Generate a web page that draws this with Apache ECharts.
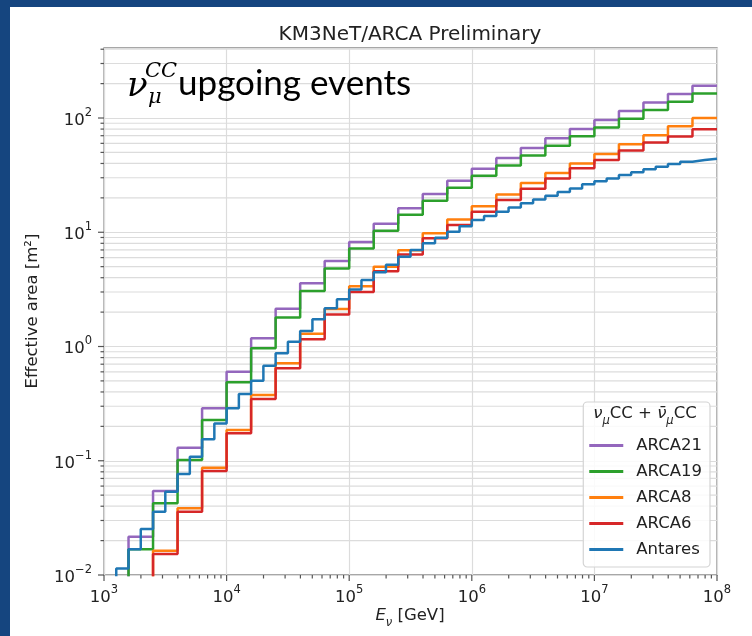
<!DOCTYPE html>
<html>
<head>
<meta charset="utf-8">
<script src="https://cdn.jsdelivr.net/npm/echarts@6/dist/echarts.min.js"></script>
<style>
  html, body { margin: 0; padding: 0; background: #15457f; width: 752px; height: 636px; overflow: hidden; }
  #main { position: absolute; left: 10px; top: 7px; width: 742px; height: 629px; background: #fff; }
</style>
</head>
<body>
<div id="main"></div>
<script>
// bin edges, log10(E / GeV)
const arcaEdges = [3.2, 3.4, 3.6, 3.8, 4.0, 4.2, 4.4, 4.6, 4.8, 5.0, 5.2, 5.4, 5.6,
  5.8, 6.0, 6.2, 6.4, 6.6, 6.8, 7.0, 7.2, 7.4, 7.6, 7.8, 8.0];
const antaresEdges = [3.1, 3.2, 3.3, 3.4, 3.5, 3.6, 3.7, 3.8, 3.9, 4.0, 4.1, 4.2, 4.3,
  4.4, 4.5, 4.6, 4.7, 4.8, 4.9, 5.0, 5.1, 5.2, 5.3, 5.4, 5.5, 5.6, 5.7, 5.8, 5.9, 6.0,
  6.1, 6.2, 6.3, 6.4, 6.5, 6.6, 6.7, 6.8, 6.9, 7.0, 7.1, 7.2, 7.3, 7.4, 7.5, 7.6, 7.7,
  7.8, 7.9, 8.0];

// effective area per bin [m2]
const arca21 = [0.0216, 0.0543, 0.130, 0.288, 0.602, 1.18, 2.14, 3.57, 5.6, 8.2, 11.9,
  16.2, 21.6, 28.2, 36, 44.7, 54.6, 66.4, 80, 96, 115, 137, 162, 192];
const arca19 = [0.0168, 0.0424, 0.1016, 0.227, 0.486, 0.964, 1.79, 3.06, 4.82, 7.2, 10.3,
  14.2, 18.9, 24.5, 31.2, 38.4, 47, 57.3, 69.2, 82.4, 98.6, 117.5, 139, 164];
const arca8 = [null, 0.0163, 0.0383, 0.087, 0.186, 0.376, 0.713, 1.29, 2.13, 3.37, 5.0,
  6.95, 9.8, 12.9, 16.9, 21.4, 27, 33, 40, 48.5, 59, 70.5, 84.5, 100];
const arca6 = [null, 0.0153, 0.0358, 0.0813, 0.174, 0.347, 0.644, 1.16, 1.91, 3.0, 4.55,
  6.4, 8.85, 11.6, 15.1, 19.2, 24, 29.6, 36.3, 43, 52, 61, 69, 79.6];
const antares = [0.0114, 0.0168, 0.0253, 0.0358, 0.0536, 0.0766, 0.1086, 0.154, 0.212,
  0.288, 0.384, 0.502, 0.679, 0.871, 1.10, 1.37, 1.73, 2.16, 2.59, 3.15, 3.82, 4.46, 5.2,
  6.1, 7.0, 8.0, 8.96, 10.1, 11.3, 12.8, 13.9, 15.1, 16.5, 17.9, 19.4, 20.9, 22.5, 24.2,
  26.3, 28, 29.6, 31.7, 33.5, 35.6, 37.5, 39.5, 41.5, 42.9, 44];

const seriesNames = ['ARCA21', 'ARCA19', 'ARCA8', 'ARCA6', 'Antares'];
const colors = ['#9467bd', '#2ca02c', '#ff7f0e', '#d62728', '#1f77b4'];

const XMIN = 1e3, XMAX = 1e8, YMIN = 1e-2, YMAX = 410;
const FLOOR = 1e-3;

const xDecades = [1e3, 1e4, 1e5, 1e6, 1e7, 1e8];
const yDecades = [1e-2, 1e-1, 1, 10, 100];
const minorMult = [2, 3, 4, 5, 6, 7, 8, 9];

function stepData(edgesLog, values) {
  let pts = [];
  for (let i = 0; i < values.length; i++) {
    if (values[i] == null) continue;
    let x = Math.pow(10, edgesLog[i]);
    if (pts.length === 0) pts.push([x, FLOOR]);
    pts.push([x, values[i]]);
  }
  pts.push([Math.pow(10, edgesLog[edgesLog.length - 1]), values[values.length - 1]]);
  return pts;
}

// tick items: [x, y, kind]  0 = x major, 1 = x minor, 2 = y major, 3 = y minor
let tickItems = [];
xDecades.forEach(d => tickItems.push([d, YMIN, 0]));
xDecades.slice(0, -1).forEach(d => minorMult.forEach(m => tickItems.push([d * m, YMIN, 1])));
yDecades.forEach(d => tickItems.push([XMIN, d, 2]));
yDecades.forEach(d => minorMult.forEach(m => {
  if (d * m < YMAX) tickItems.push([XMIN, d * m, 3]);
}));

function renderTicks(params, api) {
  const kind = api.value(2);
  const p = api.coord([api.value(0), api.value(1)]);
  const tickStyle = { stroke: '#555', lineWidth: 1.2 };
  if (kind === 0) return { type: 'line', shape: { x1: p[0], y1: p[1], x2: p[0], y2: p[1] + 6 }, style: tickStyle };
  if (kind === 1) return { type: 'line', shape: { x1: p[0], y1: p[1], x2: p[0], y2: p[1] + 3.5 }, style: tickStyle };
  if (kind === 2) return { type: 'line', shape: { x1: p[0] - 6, y1: p[1], x2: p[0], y2: p[1] }, style: tickStyle };
  const e = api.coord([XMAX, api.value(1)]);
  return {
    type: 'group',
    children: [
      { type: 'line', shape: { x1: p[0], y1: p[1], x2: e[0], y2: e[1] }, style: { stroke: '#dcdcdc', lineWidth: 1.2 } },
      { type: 'line', shape: { x1: p[0] - 3.5, y1: p[1], x2: p[0], y2: p[1] }, style: tickStyle }
    ]
  };
}

function powLabel(v) {
  const l = Math.log10(v);
  const e = Math.round(l);
  if (Math.abs(l - e) > 1e-6) return '';
  return '{b|10}{s|' + (e < 0 ? '\u2212' + (-e) : e) + '}';
}

const labelRich = {
  b: { fontFamily: 'DejaVu Sans', fontSize: 16.5, color: '#222', lineHeight: 22, verticalAlign: 'bottom' },
  s: { fontFamily: 'DejaVu Sans', fontSize: 11.5, color: '#222', lineHeight: 12, verticalAlign: 'top' }
};

const dataSets = [
  stepData(arcaEdges, arca21),
  stepData(arcaEdges, arca19),
  stepData(arcaEdges, arca8),
  stepData(arcaEdges, arca6),
  stepData(antaresEdges, antares)
];

const chart = echarts.init(document.getElementById('main'), null, { renderer: 'canvas' });

let series = dataSets.map((d, i) => ({
  name: seriesNames[i],
  type: 'line',
  step: 'end',
  data: d,
  symbol: 'none',
  showSymbol: false,
  clip: true,
  z: 3,
  color: colors[i],
  lineStyle: { color: colors[i], width: 2.5 },
  animation: false
}));

series.unshift({
  type: 'custom',
  renderItem: renderTicks,
  data: tickItems,
  encode: { x: 0, y: 1 },
  clip: false,
  silent: true,
  z: 1,
  animation: false
});

chart.setOption({
  animation: false,
  grid: {
    left: 94, right: 35, top: 41, bottom: 61,
    show: true, borderColor: '#8a8a8a', borderWidth: 1.3, backgroundColor: 'transparent'
  },
  xAxis: {
    type: 'log', logBase: 10, min: XMIN, max: XMAX,
    axisLine: { show: false },
    axisTick: { show: false },
    splitLine: { show: true, lineStyle: { color: '#dcdcdc', width: 1.2 } },
    axisLabel: { formatter: powLabel, margin: 9, rich: labelRich }
  },
  yAxis: {
    type: 'log', logBase: 10, min: YMIN, max: YMAX,
    axisLine: { show: false },
    axisTick: { show: false },
    splitLine: { show: true, lineStyle: { color: '#dcdcdc', width: 1.2 } },
    axisLabel: { formatter: powLabel, margin: 12, rich: labelRich, showMaxLabel: false }
  },
  legend: {
    data: seriesNames,
    orient: 'vertical',
    right: 42, bottom: 69,
    padding: [34, 8, 8, 6],
    icon: 'rect',
    itemWidth: 34, itemHeight: 3, itemGap: 7,
    backgroundColor: 'rgba(255,255,255,0.85)',
    borderColor: '#d4d4d4', borderWidth: 1.2, borderRadius: 4,
    textStyle: { fontFamily: 'DejaVu Sans', fontSize: 16.5, lineHeight: 19, color: '#222', padding: [0, 0, 0, 8] }
  },
  graphic: [
    { type: 'text', x: 400, y: 28, style: { text: 'KM3NeT/ARCA Preliminary', fontFamily: 'DejaVu Sans', fontSize: 20, fill: '#222', align: 'center', verticalAlign: 'middle' } },
    { type: 'text', x: 400, y: 611, style: {
      text: '{i|E}{sub|\u03bd}{r| [GeV]}', align: 'center', verticalAlign: 'middle',
      rich: {
        i: { fontFamily: 'DejaVu Sans', fontStyle: 'italic', fontSize: 16.5, fill: '#222', lineHeight: 22, verticalAlign: 'top' },
        sub: { fontFamily: 'DejaVu Sans', fontStyle: 'italic', fontSize: 11.5, fill: '#222', lineHeight: 12, verticalAlign: 'bottom' },
        r: { fontFamily: 'DejaVu Sans', fontSize: 16.5, fill: '#222', lineHeight: 22, verticalAlign: 'top' }
      } } },
    { type: 'text', x: 23, y: 304, rotation: Math.PI / 2, style: { text: 'Effective area [m\u00b2]', fontFamily: 'DejaVu Sans', fontSize: 16.5, fill: '#222', align: 'center', verticalAlign: 'middle' } },
    { type: 'text', x: 635, y: 409, z: 100, style: {
      text: '{i|\u03bd}{sub|\u03bc}{r|CC + }{i|\u03bd\u0304}{sub|\u03bc}{r|CC}', align: 'center', verticalAlign: 'middle',
      rich: {
        i: { fontFamily: 'DejaVu Sans', fontStyle: 'italic', fontSize: 16.5, fill: '#222', lineHeight: 22, verticalAlign: 'top' },
        sub: { fontFamily: 'DejaVu Sans', fontStyle: 'italic', fontSize: 11.5, fill: '#222', lineHeight: 12, verticalAlign: 'bottom' },
        r: { fontFamily: 'DejaVu Sans', fontSize: 16.5, fill: '#222', lineHeight: 22, verticalAlign: 'top' }
      } } },
    { type: 'text', x: 117, y: 80, z: 100, style: { text: '\u03bd', fontFamily: 'DejaVu Serif', fontStyle: 'italic', fontSize: 34, fill: '#000', align: 'left', verticalAlign: 'middle' } },
    { type: 'text', x: 135, y: 65, z: 100, style: { text: 'CC', fontFamily: 'DejaVu Serif', fontStyle: 'italic', fontSize: 21, fill: '#000', align: 'left', verticalAlign: 'middle' } },
    { type: 'text', x: 138, y: 91, z: 100, style: { text: '\u03bc', fontFamily: 'DejaVu Serif', fontStyle: 'italic', fontSize: 21, fill: '#000', align: 'left', verticalAlign: 'middle' } },
    { type: 'text', x: 168, y: 77, z: 100, style: { text: 'upgoing events', fontFamily: 'Lato', fontSize: 35, fill: '#000', align: 'left', verticalAlign: 'middle' } }
  ],
  series: series
});
</script>
</body>
</html>
